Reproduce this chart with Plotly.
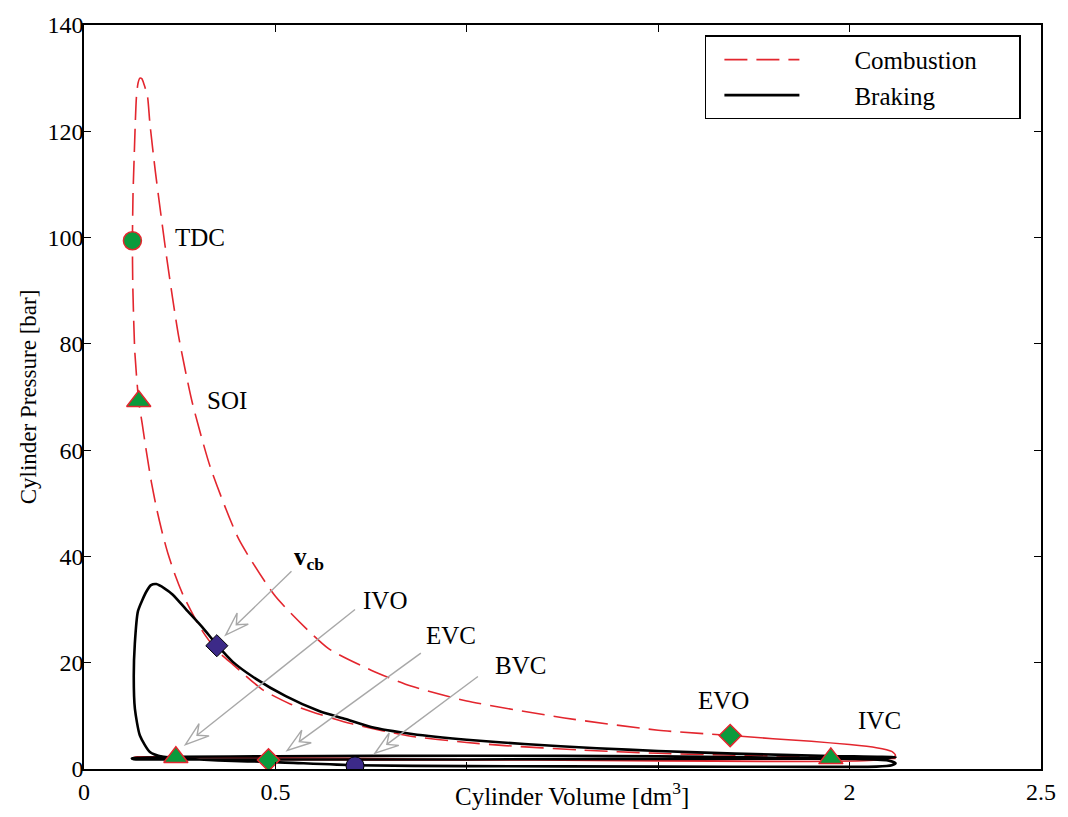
import math
import plotly.graph_objects as go

# ---------------------------------------------------------------
# Cylinder pressure vs. cylinder volume, firing vs. engine braking
# ---------------------------------------------------------------

# Combustion cycle: compression, combustion, expansion up to EVO  [dm^3], [bar]
comb_vol = [2.12, 1.95, 1.70, 1.50, 1.29, 1.10, 1.00, 0.85, 0.70, 0.606, 0.54, 0.467,
            0.39, 0.346, 0.307, 0.283, 0.259, 0.238, 0.2195, 0.205, 0.19, 0.176, 0.163,
            0.152, 0.143, 0.1328, 0.1275, 0.1265, 0.128, 0.131, 0.134, 0.137, 0.141,
            0.146, 0.151, 0.157, 0.166, 0.172, 0.1866, 0.217, 0.247, 0.282, 0.33, 0.404,
            0.50, 0.638, 0.75, 0.854, 1.00, 1.255, 1.50, 1.69]
comb_pres = [2.0, 2.25, 2.6, 2.95, 3.6, 4.4, 5.0, 6.2, 8.5, 10.5, 12.2, 14.9,
             19.6, 22.4, 26.2, 29.3, 32.7, 36.5, 40.5, 44.3, 48.9, 54.0, 59.7,
             65.0, 69.2, 78.4, 90.8, 99.4, 108.0, 115.0, 121.6, 126.5, 129.0,
             130.0, 129.9, 128.8, 126.5, 121.6, 112.3, 95.7, 81.5, 69.2, 56.8, 43.3,
             32.5, 22.7, 18.6, 15.6, 12.8, 9.6, 7.3, 6.3]

# Combustion cycle: blow-down, exhaust and intake strokes
gasex_vol = [1.69, 1.80, 1.90, 2.00, 2.07, 2.11, 2.12, 2.11, 2.05, 1.80, 1.50, 1.00,
             0.70, 0.48, 0.30, 0.20, 0.14, 0.128, 0.14, 0.30, 0.48, 0.80, 1.20,
             1.60, 1.95, 2.08, 2.12]
gasex_pres = [6.3, 5.7, 5.2, 4.6, 4.0, 3.3, 2.6, 2.0, 1.6, 1.4, 1.5, 1.8,
              2.0, 2.1, 2.2, 2.3, 2.3, 2.1, 1.9, 1.85, 1.8, 1.7, 1.7,
              1.75, 1.85, 1.95, 2.0]

# Braking cycle (compression release)
brake_vol = [2.12, 1.95, 1.70, 1.50, 1.34, 1.15, 1.00, 0.857, 0.75, 0.683, 0.614, 0.527,
             0.44, 0.388, 0.348, 0.31, 0.267, 0.232, 0.21, 0.189, 0.175, 0.163,
             0.141, 0.1327, 0.130, 0.133, 0.146, 0.172, 0.206,
             0.25, 0.35, 0.50, 0.708, 1.00, 1.50, 1.90, 2.07, 2.11,
             2.12, 2.10, 2.00, 1.50, 1.00, 0.50, 0.25, 0.14, 0.125, 0.13, 0.30,
             0.60, 1.00, 1.50, 2.00, 2.10, 2.12]
brake_pres = [2.2, 2.45, 2.9, 3.4, 3.9, 4.7, 5.5, 6.6, 7.9, 9.4, 10.9, 13.7,
              17.4, 20.2, 23.3, 26.6, 30.0, 32.8, 34.0, 34.8, 34.6, 33.4,
              29.7, 23.5, 17.4, 11.3, 6.3, 3.2, 2.3,
              2.0, 1.6, 1.3, 0.7, 0.55, 0.45, 0.4, 0.45, 0.7,
              1.1, 1.6, 1.9, 2.4, 2.5, 2.4, 2.3, 2.1, 2.0, 1.85, 1.8,
              1.8, 1.8, 1.9, 2.0, 2.1, 2.2]

# Valve / injection events on the combustion cycle
comb_events = ["TDC", "SOI", "IVO", "EVC", "EVO", "IVC"]
comb_event_vol = [0.1265, 0.143, 0.240, 0.482, 1.688, 1.951]
comb_event_pres = [99.4, 69.2, 2.2, 1.7, 6.3, 2.0]
comb_event_symbol = ["circle", "triangle-up", "triangle-up", "diamond", "diamond", "triangle-up"]

# Events on the braking cycle
brake_events = ["vcb", "BVC"]
brake_event_vol = [0.347, 0.708]
brake_event_pres = [23.2, 0.6]
brake_event_symbol = ["diamond", "circle"]

# Event labels (left edge / vertical centre)
label_text = ["TDC", "SOI", "<b>v<sub>cb</sub></b>", "IVO", "EVC", "BVC", "EVO", "IVC"]
label_vol = [0.232, 0.315, 0.544, 0.724, 0.888, 1.068, 1.600, 2.016]
label_pres = [100.0, 69.4, 39.6, 31.7, 25.2, 19.4, 12.8, 9.2]

# Leader arrows: (tail vol, tail pres, tip vol, tip pres)
arrows = [
    (0.542, 37.2, 0.370, 25.2),
    (0.708, 30.0, 0.265, 4.6),
    (0.880, 21.8, 0.531, 3.5),
    (1.029, 17.4, 0.760, 2.96),
]

x_ticks = [0, 0.5, 1.0, 1.5, 2.0, 2.5]
x_tick_text = ["0", "0.5", "", "", "2", "2.5"]
y_ticks = [0, 20, 40, 60, 80, 100, 120, 140]

RED = "#e3262e"
GREEN = "#0b9a3c"
PURPLE = "#3c2a88"
GRAY = "#a8a8a8"
FONT = "Liberation Serif"

W, H = 1068, 817
ML, MR, MT, MB = 84, 23, 17, 43
PW, PH = W - ML - MR, H - MT - MB
XR = (0, 2.5)
YR = (0, 140)


def to_px(v, p):
    return (ML + (v - XR[0]) / (XR[1] - XR[0]) * PW,
            MT + (YR[1] - p) / (YR[1] - YR[0]) * PH)


def to_data(x, y):
    return (XR[0] + (x - ML) / PW * (XR[1] - XR[0]),
            YR[1] - (y - MT) / PH * (YR[1] - YR[0]))


fig = go.Figure()

fig.add_trace(go.Scatter(
    x=gasex_vol, y=gasex_pres, mode="lines", showlegend=False,
    line=dict(color=RED, width=1.5, shape="spline", smoothing=0.6),
    hoverinfo="skip"))
fig.add_trace(go.Scatter(
    x=comb_vol, y=comb_pres, mode="lines",
    name="&nbsp;" * 8 + "Combustion" + "&nbsp;" * 6,
    line=dict(color=RED, width=1.6, dash="23px,9px", shape="spline", smoothing=0.6)))
fig.add_trace(go.Scatter(
    x=brake_vol, y=brake_pres, mode="lines",
    name="&nbsp;" * 8 + "Braking",
    line=dict(color="black", width=2.6, shape="spline", smoothing=0.6)))

fig.add_trace(go.Scatter(
    x=comb_event_vol, y=comb_event_pres, mode="markers", showlegend=False,
    text=comb_events, hoverinfo="text",
    marker=dict(symbol=comb_event_symbol, size=[18, 21, 21, 17, 17, 21], opacity=1,
                color=GREEN, line=dict(color=RED, width=1.5))))
fig.add_trace(go.Scatter(
    x=brake_event_vol, y=brake_event_pres, mode="markers", showlegend=False,
    text=brake_events, hoverinfo="text",
    marker=dict(symbol=brake_event_symbol, size=[17, 18], opacity=1,
                color=PURPLE, line=dict(color="black", width=1))))

# Event labels
for t, v, p in zip(label_text, label_vol, label_pres):
    fig.add_annotation(x=v, y=p, text=t, showarrow=False, xanchor="left",
                       yanchor="middle", font=dict(family=FONT, size=25, color="black"))

# Leader lines with open arrowheads
shapes = []
HEAD_LEN, HEAD_HALF, NOTCH = 24, 8, 15
for tv, tp, hv, hp in arrows:
    x0, y0 = to_px(tv, tp)
    x1, y1 = to_px(hv, hp)
    L = math.hypot(x1 - x0, y1 - y0)
    ux, uy = (x1 - x0) / L, (y1 - y0) / L
    nx, ny = -uy, ux
    notch = (x1 - NOTCH * ux, y1 - NOTCH * uy)
    b1 = (x1 - HEAD_LEN * ux + HEAD_HALF * nx, y1 - HEAD_LEN * uy + HEAD_HALF * ny)
    b2 = (x1 - HEAD_LEN * ux - HEAD_HALF * nx, y1 - HEAD_LEN * uy - HEAD_HALF * ny)
    nv, np_ = to_data(*notch)
    shapes.append(dict(type="line", xref="x", yref="y", x0=tv, y0=tp, x1=nv, y1=np_,
                       line=dict(color=GRAY, width=1.4)))
    pts = [to_data(x1, y1), to_data(*b1), to_data(*notch), to_data(*b2)]
    path = "M " + " L ".join(f"{a:.5f},{b:.5f}" for a, b in pts) + " Z"
    shapes.append(dict(type="path", xref="x", yref="y", path=path,
                       fillcolor="white", line=dict(color=GRAY, width=1.4)))

fig.add_annotation(xref="paper", yref="paper", x=0.51, y=-0.034,
                   text="Cylinder Volume [dm<sup>3</sup>]", showarrow=False,
                   xanchor="center", yanchor="middle",
                   font=dict(family=FONT, size=25, color="black"))

axis_common = dict(showgrid=False, zeroline=False, showline=True, linecolor="black",
                   linewidth=1.5, mirror="ticks", ticks="inside", ticklen=7,
                   tickwidth=1, tickcolor="black",
                   tickfont=dict(family=FONT, size=24, color="black"))

fig.update_layout(
    width=W, height=H,
    font=dict(family=FONT, size=24, color="black"),
    margin=dict(l=ML, r=MR, t=MT, b=MB),
    paper_bgcolor="white", plot_bgcolor="white",
    shapes=shapes,
    xaxis=dict(range=list(XR), tickvals=x_ticks, ticktext=x_tick_text, **axis_common),
    yaxis=dict(range=list(YR), tickvals=y_ticks, ticklabelstandoff=-6,
               title=dict(text="Cylinder Pressure [bar]", standoff=4,
                          font=dict(family=FONT, size=23, color="black")),
               **axis_common),
    legend=dict(x=0.979, y=0.986, xanchor="right", yanchor="top",
                bgcolor="white", bordercolor="black", borderwidth=1.5,
                indentation=13,
                itemwidth=75, font=dict(family=FONT, size=25, color="black")),
    showlegend=True,
)

fig.write_html("out.html")
